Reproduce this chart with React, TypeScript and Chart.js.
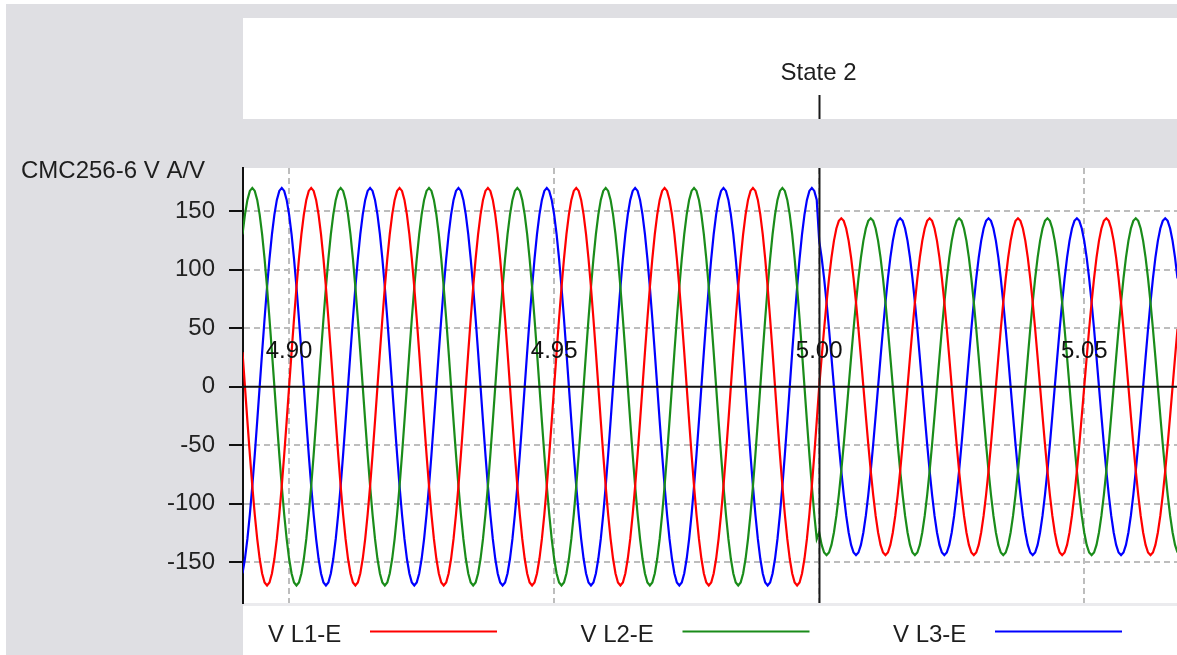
import { useEffect, useRef } from 'react';
import { Chart, registerables } from 'chart.js';

Chart.register(...registerables);

const W = 1177;
const H = 655;
const FONT = "'Liberation Sans', Arial, sans-serif";

// Sampling of the recorded voltages: 36 samples per 60 Hz cycle
const sampleRate = 2160; // samples / s
const firstSample = 10565; // t ≈ 4.8912 s
const lastSample = 10946; // t ≈ 5.0676 s

// One cycle of V L1-E (volts, 10° per sample) for each test state
const state1Cycle = [
  0, 29.5, 58.1, 85.0, 109.3, 130.2, 147.2, 159.7, 167.4, 170.0, 167.4, 159.7,
  147.2, 130.2, 109.3, 85.0, 58.1, 29.5, 0, -29.5, -58.1, -85.0, -109.3, -130.2,
  -147.2, -159.7, -167.4, -170.0, -167.4, -159.7, -147.2, -130.2, -109.3, -85.0, -58.1, -29.5,
];
const state2Cycle = [
  0, 25.0, 49.3, 72.0, 92.6, 110.3, 124.7, 135.3, 141.8, 144.0, 141.8, 135.3,
  124.7, 110.3, 92.6, 72.0, 49.3, 25.0, 0, -25.0, -49.3, -72.0, -92.6, -110.3,
  -124.7, -135.3, -141.8, -144.0, -141.8, -135.3, -124.7, -110.3, -92.6, -72.0, -49.3, -25.0,
];

// Test states
const stateNames = ['State 1', 'State 2'];
const stateStarts = [0, 5.0]; // s
const stateCycles = [state1Cycle, state2Cycle];

// Phases: name, colour, lag in samples (0°, 120°, 240°)
const phaseNames = ['V L1-E', 'V L2-E', 'V L3-E'];
const phaseColors = ['#ff0000', '#1a8c1a', '#0000ff'];
const phaseLags = [0, 12, 24];

// Axes
const xMin = 4.8913;
const xMax = 5.0675;
const xTickValues = [4.9, 4.95, 5.0, 5.05];
const xTickLabels = ['4.90', '4.95', '5.00', '5.05'];
const yMin = -185;
const yMax = 187;
const yTickValues = [-150, -100, -50, 0, 50, 100, 150];
const yAxisTitle = 'CMC256-6 V A/V';

function buildSeries(phase: number) {
  const pts: { x: number; y: number }[] = [];
  for (let k = firstSample; k <= lastSample; k++) {
    const t = k / sampleRate;
    let s = 0;
    for (let i = 0; i < stateStarts.length; i++) if (t >= stateStarts[i] - 1e-9) s = i;
    const cycle = stateCycles[s];
    const n = cycle.length;
    const idx = (((k - phaseLags[phase]) % n) + n) % n;
    pts.push({ x: t, y: cycle[idx] });
  }
  return pts;
}

const framePlugin = {
  id: 'framePlugin',
  beforeDraw(chart: any) {
    const { ctx, chartArea: a } = chart;
    ctx.save();
    ctx.fillStyle = '#ffffff';
    ctx.fillRect(0, 0, W, H);
    ctx.fillStyle = '#dfdfe3';
    ctx.fillRect(6, 4, W - 6, H - 4);
    ctx.fillStyle = '#ffffff';
    // header strip for state markers
    ctx.fillRect(a.left, 18, W - a.left, 101);
    // plot area
    ctx.fillRect(a.left, a.top, a.right - a.left, a.bottom - a.top);
    // legend strip
    ctx.fillStyle = '#ebebee';
    ctx.fillRect(a.left, a.bottom, W - a.left, 3);
    ctx.fillStyle = '#ffffff';
    ctx.fillRect(a.left, a.bottom + 3, W - a.left, H - a.bottom - 3);
    ctx.restore();
  },
  afterDatasetsDraw(chart: any) {
    const { ctx, chartArea: a, scales } = chart;
    const xs = scales.x;
    const ys = scales.y;
    const y0 = ys.getPixelForValue(0);
    ctx.save();
    // zero line
    ctx.strokeStyle = '#111111';
    ctx.lineWidth = 2;
    ctx.beginPath();
    ctx.moveTo(a.left, y0);
    ctx.lineTo(a.right, y0);
    ctx.stroke();
    // time labels inside the plot
    ctx.fillStyle = '#111111';
    ctx.font = `24px ${FONT}`;
    ctx.textAlign = 'center';
    ctx.textBaseline = 'alphabetic';
    xTickValues.forEach((v, i) => {
      ctx.fillText(xTickLabels[i], xs.getPixelForValue(v), y0 - 29);
    });
    // state change markers
    stateStarts.forEach((t, i) => {
      if (t <= xMin || t >= xMax) return;
      const px = Math.round(xs.getPixelForValue(t)) + 0.5;
      ctx.strokeStyle = '#1a1a1a';
      ctx.lineWidth = 2;
      ctx.beginPath();
      ctx.moveTo(px, a.top);
      ctx.lineTo(px, a.bottom);
      ctx.moveTo(px, 95);
      ctx.lineTo(px, 119);
      ctx.stroke();
      ctx.fillStyle = '#1e1e1e';
      ctx.textAlign = 'center';
      ctx.fillText(stateNames[i], px - 1, 80);
    });
    ctx.restore();
  },
  afterDraw(chart: any) {
    const { ctx } = chart;
    ctx.save();
    ctx.font = `24px ${FONT}`;
    ctx.fillStyle = '#1e1e1e';
    ctx.textAlign = 'left';
    ctx.textBaseline = 'alphabetic';
    ctx.fillText(yAxisTitle, 21, 178);
    chart.data.datasets.forEach((ds: any, i: number) => {
      const x0 = 268 + i * 312.5;
      ctx.fillStyle = '#1e1e1e';
      ctx.fillText(ds.label, x0, 642);
      ctx.strokeStyle = ds.borderColor;
      ctx.lineWidth = 2;
      ctx.beginPath();
      ctx.moveTo(x0 + 102, 631.5);
      ctx.lineTo(x0 + 229, 631.5);
      ctx.stroke();
    });
    ctx.restore();
  },
};

export default function App() {
  const ref = useRef<HTMLCanvasElement>(null);

  useEffect(() => {
    if (!ref.current) return;
    const chart = new Chart(ref.current, {
      type: 'line',
      data: {
        datasets: phaseNames.map((name, i) => ({
          label: name,
          data: buildSeries(i),
          borderColor: phaseColors[i],
          backgroundColor: phaseColors[i],
          borderWidth: 2.2,
          pointRadius: 0,
          tension: 0,
          fill: false,
        })),
      },
      options: {
        animation: false,
        responsive: false,
        events: [],
        layout: { padding: { top: 168, bottom: 52, left: 0, right: 0 } },
        plugins: { legend: { display: false }, tooltip: { enabled: false } },
        scales: {
          x: {
            type: 'linear',
            min: xMin,
            max: xMax,
            afterBuildTicks: (s: any) => {
              s.ticks = xTickValues.map((v) => ({ value: v }));
            },
            afterFit: (s: any) => {
              s.height = 0;
            },
            ticks: { display: false },
            grid: { color: '#bdbdbd', lineWidth: 2, drawTicks: false },
            border: { display: false, dash: [6, 4] },
          },
          y: {
            type: 'linear',
            min: yMin,
            max: yMax,
            afterBuildTicks: (s: any) => {
              s.ticks = yTickValues.map((v) => ({ value: v }));
            },
            afterFit: (s: any) => {
              s.width = 243;
            },
            ticks: {
              color: '#222222',
              font: { size: 24, family: FONT },
              padding: 14,
              callback: (v: any) => String(v),
            },
            grid: {
              color: (c: any) => (c.tick && c.tick.value === 0 ? 'rgba(0,0,0,0)' : '#bdbdbd'),
              lineWidth: 2,
              drawTicks: true,
              tickLength: 14,
              tickColor: '#111111',
              tickWidth: 2,
              tickBorderDash: [],
            },
            border: { display: true, color: '#111111', width: 2, dash: [6, 4] },
          },
        },
      },
      plugins: [framePlugin],
    } as any);
    return () => chart.destroy();
  }, []);

  return (
    <div style={{ position: 'fixed', left: 0, top: 0, width: W, height: H, overflow: 'hidden' }}>
      <canvas ref={ref} width={W} height={H} style={{ display: 'block' }} />
    </div>
  );
}
